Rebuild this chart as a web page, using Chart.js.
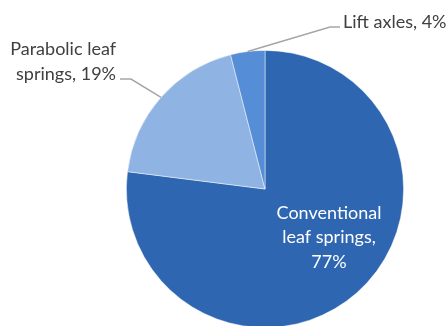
<!DOCTYPE html>
<html>
<head>
<meta charset="utf-8">
<script src="https://cdn.jsdelivr.net/npm/chart.js@4"></script>
<style>
  html, body { margin: 0; padding: 0; background: #fff; overflow: hidden; }
  #wrap { width: 447px; height: 330px; }
</style>
</head>
<body>
<div id="wrap"><canvas id="pie" width="447" height="330"></canvas></div>
<script>
// suspension types, share in %
const categories = ["Conventional leaf springs", "Parabolic leaf springs", "Lift axles"];
const shares = [77, 19, 4];
const sliceColors = ["#2e66b1", "#8fb3e2", "#558ed6"];

const FONT = "18px Lato, 'Noto Sans', sans-serif";

function wrapText(ctx, text, maxW) {
  const words = text.split(" ");
  const lines = [];
  let cur = "";
  words.forEach(w => {
    const test = cur ? cur + " " + w : w;
    if (cur && ctx.measureText(test).width > maxW) {
      lines.push(cur);
      cur = w;
    } else {
      cur = test;
    }
  });
  if (cur) lines.push(cur);
  return lines;
}

// labels: first slice inside, the two small ones outside with leader lines
const labelPlugin = {
  id: "sliceLabels",
  afterDatasetsDraw(chart) {
    const ctx = chart.ctx;
    const arcs = chart.getDatasetMeta(0).data;
    ctx.save();
    ctx.font = FONT;
    ctx.textBaseline = "middle";

    arcs.forEach((arc, i) => {
      const text = categories[i] + ", " + shares[i] + "%";
      const mid = (arc.startAngle + arc.endAngle) / 2;
      const ex = arc.x + Math.cos(mid) * arc.outerRadius;
      const ey = arc.y + Math.sin(mid) * arc.outerRadius;

      if (i === 0) {
        const lines = wrapText(ctx, text, 120);
        ctx.fillStyle = "#ffffff";
        ctx.textAlign = "center";
        lines.forEach((l, k) => ctx.fillText(l, arc.x + 64, arc.y + 24 + k * 24.5));
      } else if (i === 1) {
        ctx.strokeStyle = "#a6a6a6";
        ctx.lineWidth = 1.5;
        ctx.beginPath();
        ctx.moveTo(ex, ey);
        ctx.lineTo(131, 79);
        ctx.lineTo(120, 79);
        ctx.stroke();
        const lines = wrapText(ctx, text, 124);
        ctx.fillStyle = "#404040";
        ctx.textAlign = "right";
        lines.forEach((l, k) => ctx.fillText(l, 116, 49 + k * 25));
      } else {
        ctx.strokeStyle = "#a6a6a6";
        ctx.lineWidth = 1.5;
        ctx.beginPath();
        ctx.moveTo(ex, ey);
        ctx.lineTo(330, 27);
        ctx.lineTo(340, 27);
        ctx.stroke();
        ctx.fillStyle = "#404040";
        ctx.textAlign = "left";
        ctx.fillText(text, 343, 22);
      }
    });
    ctx.restore();
  }
};

new Chart(document.getElementById("pie"), {
  type: "pie",
  data: {
    labels: categories,
    datasets: [{
      data: shares,
      backgroundColor: sliceColors,
      borderColor: "rgba(255,255,255,0.6)",
      borderWidth: 0.8
    }]
  },
  options: {
    responsive: false,
    animation: false,
    layout: { padding: { left: 126, right: 43, top: 50, bottom: 2 } },
    plugins: {
      legend: { display: false },
      tooltip: { enabled: false }
    }
  },
  plugins: [labelPlugin]
});
</script>
</body>
</html>
